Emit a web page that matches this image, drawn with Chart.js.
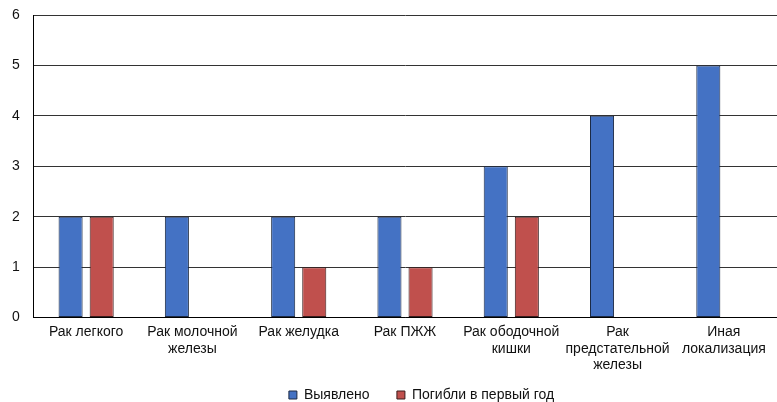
<!DOCTYPE html>
<html><head><meta charset="utf-8">
<script src="https://cdn.jsdelivr.net/npm/chart.js@4/dist/chart.umd.min.js"></script>
<style>html,body{margin:0;padding:0;background:#fff}</style>
</head><body>
<canvas id="c" width="777" height="402"></canvas>
<script>
const categories = [
  ["Рак легкого"],
  ["Рак молочной", "железы"],
  ["Рак желудка"],
  ["Рак ПЖЖ"],
  ["Рак ободочной", "кишки"],
  ["Рак", "предстательной", "железы"],
  ["Иная", "локализация"]
];
const detected = [2, 2, 2, 2, 3, 4, 5];
const diedFirstYear = [2, null, 1, 1, 2, null, null];
const seriesNames = ["Выявлено", "Погибли в первый год"];
const yTicks = [0, 1, 2, 3, 4, 5, 6];

Chart.defaults.font.family = "'Liberation Sans', Arial, sans-serif";
Chart.defaults.font.size = 14;
Chart.defaults.color = '#000';

const legendShift = {
  id: 'legendShift',
  afterLayout(chart) {
    const lg = chart.legend;
    if (lg) { lg.left += 27; lg.right += 27; }
  }
};

const baseGen = Chart.defaults.plugins.legend.labels.generateLabels;

new Chart(document.getElementById('c'), {
  type: 'bar',
  data: {
    labels: categories,
    datasets: [
      { label: seriesNames[0], data: detected, backgroundColor: '#4472C4', borderColor: '#1c2a44', borderWidth: 1, borderSkipped: false, barPercentage: 0.774, categoryPercentage: 0.585 },
      { label: seriesNames[1], data: diedFirstYear, backgroundColor: '#C0504D', borderColor: '#3a1c1c', borderWidth: 1, borderSkipped: false, barPercentage: 0.774, categoryPercentage: 0.585 }
    ]
  },
  plugins: [legendShift],
  options: {
    responsive: false,
    animation: false,
    layout: { padding: { top: 15, left: 12, right: 0, bottom: -10 } },
    plugins: {
      tooltip: { enabled: false },
      legend: {
        position: 'bottom',
        labels: {
          boxWidth: 8, boxHeight: 8, padding: 8, color: '#111', font: { size: 14 },
          generateLabels: (chart) => {
            const items = baseGen(chart);
            items.forEach((it, i) => { if (i < items.length - 1) it.text += '\u00a0\u00a0\u00a0\u00a0\u00a0'; });
            return items;
          }
        }
      }
    },
    scales: {
      x: {
        grid: { display: false, drawTicks: false },
        border: { color: '#000', width: 1 },
        ticks: { padding: 6, maxRotation: 0, autoSkip: false, color: '#111' }
      },
      y: {
        min: 0, max: 6,
        afterBuildTicks: (ax) => { ax.ticks = yTicks.map(v => ({ value: v })); },
        afterFit: (ax) => { ax.width = 21; },
        grid: { color: '#333', lineWidth: 1, drawTicks: false },
        border: { color: '#000', width: 1 },
        ticks: { stepSize: 1, padding: 0, crossAlign: 'far', color: '#111' }
      }
    }
  }
});
</script>
</body></html>
